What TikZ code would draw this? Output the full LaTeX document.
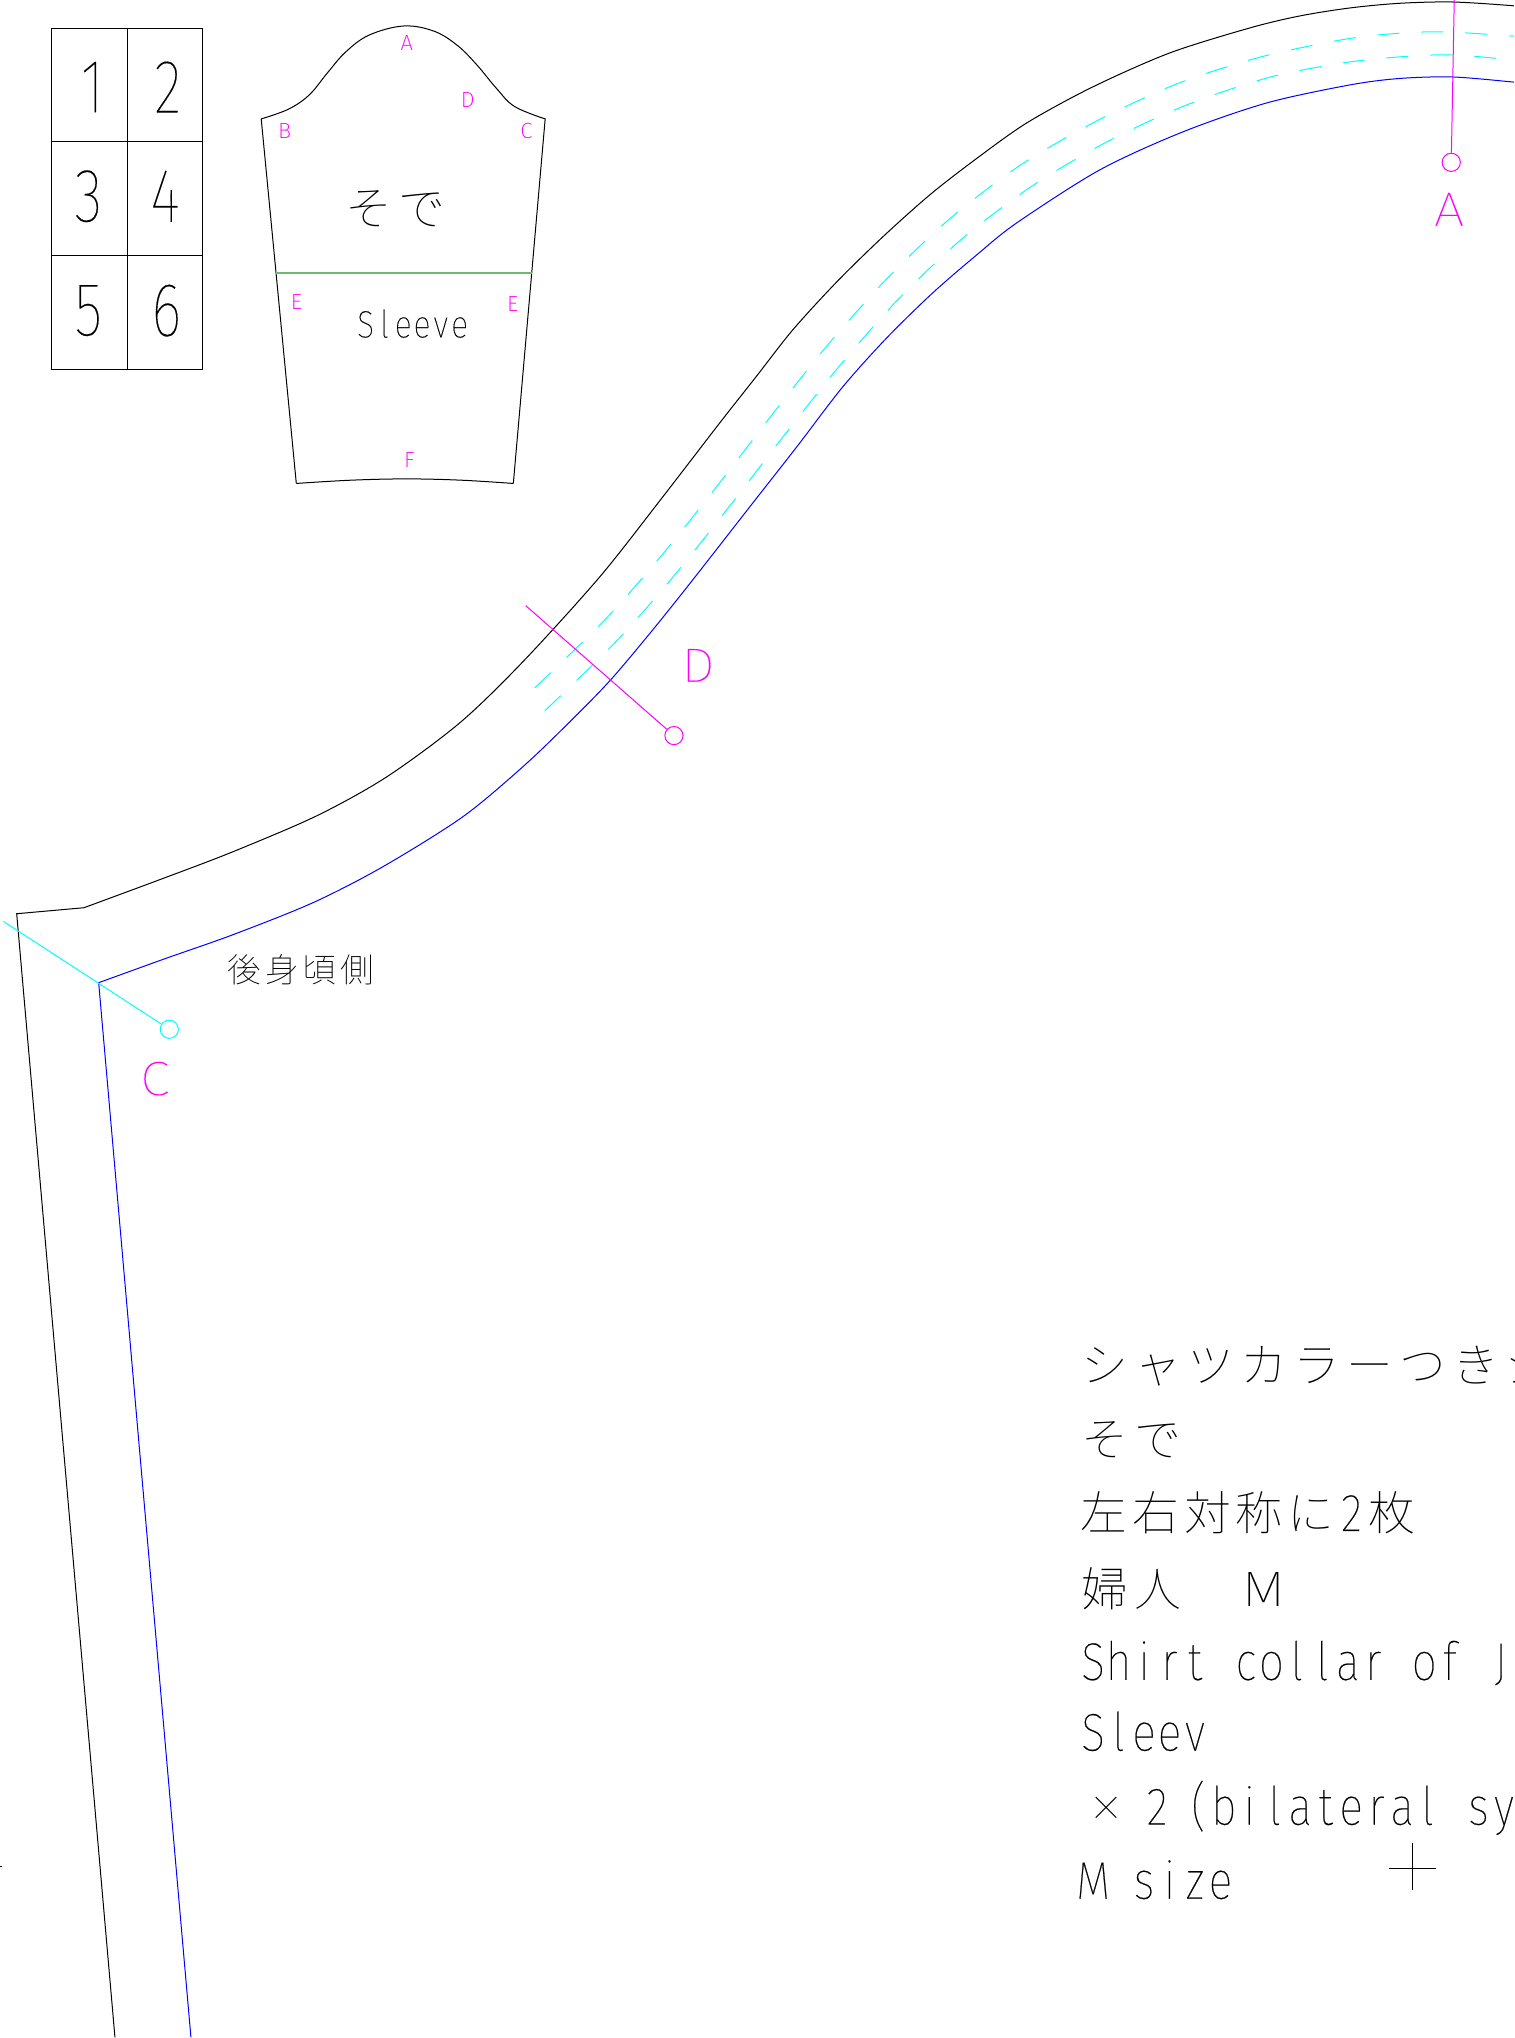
\documentclass[tikz,border=0pt]{standalone}
\usepackage{fontspec}
\newfontfamily\cad[FakeStretch=0.76,FakeBold=0.2]{Fira Sans Thin}
\newfontfamily\cadx[FakeStretch=0.84,FakeBold=0.4]{Fira Sans Thin}
\newfontfamily\cadw[FakeStretch=1.12,FakeBold=0.3]{Fira Sans Thin}
\newfontfamily\cadt{Fira Sans ExtraLight}
\newfontfamily\cjk{Noto Sans CJK JP Thin}
\newlength\pw
\newcommand\pitched[2]{\setlength\pw{#1}\pitchloop#2\relax}
\def\pitchloop#1{\ifx#1\relax\else\makebox[\pw][c]{#1}\expandafter\pitchloop\fi}
\definecolor{cadmag}{RGB}{255,0,255}
\definecolor{cadcyan}{RGB}{0,255,255}
\definecolor{cadblue}{RGB}{0,0,255}
\definecolor{cadgreen}{RGB}{112,184,112}
\tikzset{
  thinline/.style={line width=0.5pt,black,line join=miter},
  seam/.style={line width=0.5pt,cadblue},
  stitch/.style={line width=0.5pt,cadcyan,dash pattern=on 11pt off 11pt},
  digit/.style={inner sep=0pt,font=\cad\fontsize{38}{38}\selectfont},
  tinylab/.style={inner sep=0pt,text=cadmag,font=\cadt\fontsize{11}{12}\selectfont},
  biglab/.style={inner sep=0pt,text=cadmag,font=\cadw\fontsize{24}{24}\selectfont},
  jbig/.style={inner sep=0pt,anchor=base west,font=\cjk\fontsize{23.4}{24}\selectfont},
  lbig/.style={inner sep=0pt,anchor=base west,font=\cadx\fontsize{26.5}{27}\selectfont},
  pin/.style={circle,draw,inner sep=0pt,minimum size=9.1pt,line width=0.5pt},
  px/.style={x=0.5pt,y=-0.5pt},
}
\begin{document}
\begin{tikzpicture}[x=0.65pt,y=-0.65pt]
\useasboundingbox (0,0) rectangle (1165,1568.2);
\fill[white] (0,0) rectangle (1165,1568.2);
\begin{scope}
\clip (0,0) rectangle (1165,1568.2);
% layout grid
\draw[thinline] (40,22) rectangle (156,284);
\draw[thinline] (98,22) -- (98,284);
\draw[thinline] (40,109) -- (156,109) (40,196.5) -- (156,196.5);
\node[digit] (n1) at (71,67) {1};
\node[digit] (n2) at (129,67) {2};
\node[digit] (n3) at (68,151) {3};
\node[digit] (n4) at (127,151) {4};
\node[digit] (n5) at (68,239) {5};
\node[digit] (n6) at (128,239) {6};
% sleeve thumbnail
\draw[thinline] (228,372) -- (201,91.5)
  plot[smooth,tension=0.6] coordinates {(201,91.5) (222,84) (238,73) (252,56) (266,40) (284,27) (310.6,20) (334,24) (352,35) (367,50) (382,68) (396,82) (419.5,91.5)}
  -- (395,372)
  plot[smooth,tension=0.6] coordinates {(395,372) (355,369.5) (313,368.5) (270,369.5) (228,372)};
\draw[line width=0.8pt,cadgreen] (212.5,210) -- (409.5,210);
\node[tinylab] (sa) at (313,33) {A};
\node[tinylab] (sd) at (360,77) {D};
\node[tinylab] (sb) at (219,101) {B};
\node[tinylab] (sc) at (405,101) {C};
\node[tinylab] (se1) at (228,232) {E};
\node[tinylab] (se2) at (394.5,234) {E};
\node[tinylab] (sf) at (315,354) {F};
\node[inner sep=0pt,font=\cjk\fontsize{23.4}{24}\selectfont] (sode) at (304,161) {\pitched{26.6pt}{そで}};
\node[inner sep=0pt,font=\cadx\fontsize{19}{20}\selectfont] (slv) at (317.5,249) {\pitched{9.4pt}{Sleeve}};
% main piece, cut line
\draw[thinline,px] (115,2038) -- (16.7,914) -- (84,908)
  plot[smooth,tension=0.5] coordinates {(84,908) (165,878) (233,852) (317,816) (387,777) (460,723) (523,662) (600,577) (663,497) (720,423) (757,376) (793,330) (837,282) (883,237) (930,195) (975,160) (1027,123) (1093,87) (1170,53) (1250,28) (1300,16) (1350,8) (1400,3.3) (1453,2) (1513,5.7) (1530,8)};
% seam line
\draw[seam,px] (191,2038) -- (98.7,983)
  plot[smooth,tension=0.5] coordinates {(98.7,983) (165,959) (233,935) (313,903) (383,867) (463,817) (523,767) (567,725) (610,681) (653,630) (693,580) (750,507) (797,447) (843,387) (887,338) (933,293) (977,255) (1017,223) (1100,170) (1183,132) (1267,103) (1350,85) (1400,78.5) (1453,77) (1513,82) (1530,84)};
% stitch lines
\draw[stitch,px] plot[smooth,tension=0.5] coordinates {(535,688) (606,619) (664,553) (719,484) (773,414) (828,345) (887,279) (951,218) (1021,165) (1097,121) (1177,84) (1261,57) (1347,39) (1403,33) (1447,32) (1513,36) (1530,38)};
\draw[stitch,px] plot[smooth,tension=0.5] coordinates {(545,711) (617,641) (675,575) (730,506) (784,436) (839,367) (897,301) (961,240) (1031,187) (1107,142) (1187,105) (1271,77) (1350,62) (1413,56) (1457,55) (1513,60) (1530,62)};
% notch A
\coordinate (topA) at (1119,0);
\node[pin,draw=cadmag] (pinA) at (1116.7,124.9) {};
\draw[seam,cadmag] (topA) -- (pinA);
\node[biglab] (labA) at (1115,161) {A};
% notch D
\coordinate (topD) at (404.5,466);
\node[pin,draw=cadmag] (pinD) at (518.6,566) {};
\draw[seam,cadmag] (topD) -- (pinD);
\node[biglab] (labD) at (537,512) {D};
% notch C
\coordinate (topC) at (2.6,709);
\node[pin,draw=cadcyan] (pinC) at (130.3,792) {};
\draw[seam,cadcyan] (topC) -- (pinC);
\node[biglab] (labC) at (119,830) {C};
\node[inner sep=0pt,font=\cjk\fontsize{16.8}{17}\selectfont] (back) at (231.5,746) {\pitched{18.7pt}{後身頃側}};
% tick at left edge
\coordinate (tk1) at (0,1436.5);
\coordinate (tk2) at (1.8,1436.5);
\draw[thinline] (tk1) -- (tk2);
% crosshair
\coordinate (crL) at (1069,1438);
\coordinate (crR) at (1105,1438);
\coordinate (crT) at (1087,1418);
\coordinate (crB) at (1087,1454);
\draw[thinline] (crL) -- (crR) (crT) -- (crB);
% title block
\node[jbig] (t1) at (829.6,1064) {\pitched{26.5pt}{シャツカラーつきジ}};
\node[jbig] (t2) at (829.6,1121) {\pitched{26.5pt}{そで}};
\node[jbig] (t3) at (829.6,1178) {\pitched{25.8pt}{左右対称に}\makebox[15pt][c]{\cadx\fontsize{26.5}{27}\selectfont 2}\makebox[25.8pt][c]{枚}};
\node[jbig] (t4) at (829.6,1236) {\pitched{26.5pt}{婦人　Ｍ}};
\node[lbig] (t5) at (831,1292.6) {\pitched{12.74pt}{Shirt~collar~of~J}};
\node[lbig] (t6) at (831,1347) {\pitched{12.74pt}{Sleev}};
\node[lbig] (t7) at (841,1404) {\pitched{12.74pt}{{\raisebox{2pt}{\cjk\fontsize{17}{17}\selectfont ×}}~2}};
\node[lbig] (t7b) at (912,1404) {\pitched{12.74pt}{(bilateral~sy}};
\node[lbig] (t8) at (831,1461) {\pitched{12.74pt}{M~size}};
\end{scope}
\end{tikzpicture}
\end{document}
